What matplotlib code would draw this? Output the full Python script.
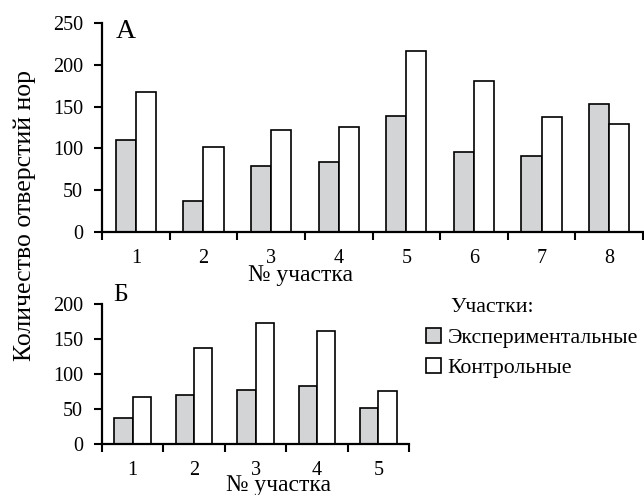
import numpy as np
import matplotlib
matplotlib.use("Agg")
import matplotlib.pyplot as plt
from matplotlib.patches import Patch

plt.rcParams['font.family'] = ['Liberation Serif', 'DejaVu Serif']

# панель А
plots_a = ['1', '2', '3', '4', '5', '6', '7', '8']
exp_a = [110, 37, 79, 84, 139, 96, 91, 153]
ctrl_a = [168, 102, 122, 126, 217, 181, 137, 129]

# панель Б
plots_b = ['1', '2', '3', '4', '5']
exp_b = [37, 71, 77, 84, 52]
ctrl_b = [68, 138, 174, 162, 76]

gray = '#d3d4d6'
fs_tick = 14.5
fs_lab = 17
fs_leg = 15.7
W, H = 644, 495

fig = plt.figure(figsize=(W / 100, H / 100), dpi=100)


def draw(ax, labels, exp, ctrl, ymax):
    n = len(labels)
    x = np.arange(1, n + 1)
    w = 0.297
    ax.bar(x - w / 2, exp, w, color=gray, edgecolor='black', linewidth=1.2)
    ax.bar(x + w / 2, ctrl, w, color='white', edgecolor='black', linewidth=1.2)
    ax.set_xlim(0.5, n + 0.5)
    ax.set_ylim(0, ymax)
    ax.set_yticks(np.arange(0, ymax + 1, 50))
    # деления по границам участков, подписи по центрам
    ax.set_xticks(np.arange(0.5, n + 1, 1))
    ax.set_xticklabels([])
    ax.set_xticks(x, minor=True)
    ax.set_xticklabels(labels, minor=True)
    ax.tick_params(axis='x', which='major', direction='out', length=6, width=1.5)
    ax.tick_params(axis='x', which='minor', length=0, pad=12, labelsize=fs_tick)
    ax.tick_params(axis='y', direction='out', length=5.5, width=1.5, pad=8, labelsize=fs_tick)
    for s in ['top', 'right']:
        ax.spines[s].set_visible(False)
    for s in ['left', 'bottom']:
        ax.spines[s].set_linewidth(1.6)


ax1 = fig.add_axes([102 / W, 1 - 232 / H, (643 - 102) / W, 209 / H])
draw(ax1, plots_a, exp_a, ctrl_a, 250)
fig.text(116 / W, 1 - 32 / H, 'А', fontsize=20, va='center')

ax2 = fig.add_axes([102 / W, 1 - 444.3 / H, (409 - 102) / W, 140 / H])
draw(ax2, plots_b, exp_b, ctrl_b, 200)
fig.text(113 / W, 1 - 295 / H, 'Б', fontsize=18.5, va='center')

fig.text(301 / W, 1 - 276 / H, '№ участка', fontsize=fs_lab, ha='center', va='center')
fig.text(278 / W, 1 - 485 / H, '№ участка', fontsize=fs_lab, ha='center', va='center')
fig.text(25 / W, 1 - 216 / H, 'Количество отверстий нор', fontsize=18.5,
         rotation=90, ha='center', va='center')

fig.text(450 / W, 1 - 308 / H, 'Участки:', fontsize=fs_leg, va='center')
handles = [Patch(facecolor=gray, edgecolor='black', linewidth=1.2),
           Patch(facecolor='white', edgecolor='black', linewidth=1.2)]
fig.legend(handles, ['Экспериментальные', 'Контрольные'], loc='upper left',
           bbox_to_anchor=(426 / W, 1 - 328 / H), frameon=False, fontsize=fs_leg,
           handlelength=0.7, handleheight=0.7, handletextpad=0.3,
           labelspacing=0.45, borderpad=0, borderaxespad=0)

fig.savefig('out.png', dpi=100)
